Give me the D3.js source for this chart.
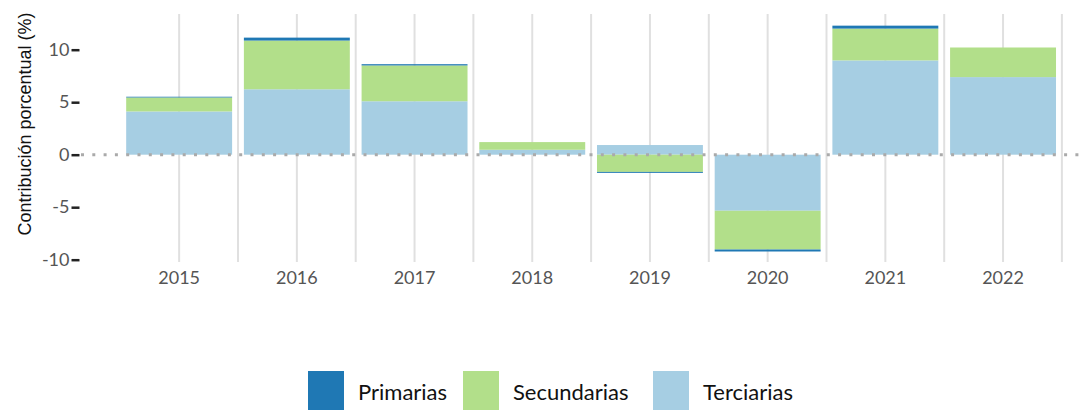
<!DOCTYPE html>
<html>
<head>
<meta charset="utf-8">
<script src="https://cdn.jsdelivr.net/npm/d3@7"></script>
<style>
  body { margin: 0; background: #fff; }
  svg { display: block; }
  .tick-label { font-family: "Century Gothic", Lato, sans-serif; fill: #555; }
</style>
</head>
<body>
<div id="chart"></div>
<script>
// data (percentage points)
var years = ['2015', '2016', '2017', '2018', '2019', '2020', '2021', '2022'];
var terciarias = [4.12, 6.23, 5.09, 0.47, 0.92, -5.34, 8.98, 7.39];
var secundarias = [1.33, 4.64, 3.41, 0.73, -1.64, -3.69, 3.03, 2.82];
var primarias = [0.07, 0.28, 0.12, 0.0, -0.09, -0.19, 0.28, 0.0];
var yTicks = [-10, -5, 0, 5, 10];
var seriesNames = ['Primarias', 'Secundarias', 'Terciarias'];
var seriesColors = ['#1f78b4', '#b2df8a', '#a6cee3'];

var width = 1084;
var height = 410;

var svg = d3.select('#chart')
  .append('svg')
  .attr('width', width)
  .attr('height', height);

var rows = years.map(function (yr, i) {
  return { year: yr, Terciarias: terciarias[i], Secundarias: secundarias[i], Primarias: primarias[i] };
});

// terciarias sits next to zero, primarias on the outside
var stacked = d3.stack()
  .keys(['Terciarias', 'Secundarias', 'Primarias'])
  .offset(d3.stackOffsetDiverging)(rows);

var x = d3.scaleBand()
  .domain(years)
  .range([120.3, 1061.9])
  .paddingInner(0.1)
  .paddingOuter(0.05);

var y = d3.scaleLinear()
  .domain([-10.22, 13.4])
  .range([262, 14]);

var color = d3.scaleOrdinal().domain(seriesNames).range(seriesColors);

// vertical grid: category centres and the borders after each one
var grid = svg.append('g');
years.forEach(function (yr) {
  var centre = x(yr) + x.bandwidth() / 2;
  [centre, centre + x.step() / 2].forEach(function (gx) {
    grid.append('line')
      .attr('x1', gx).attr('x2', gx)
      .attr('y1', 14).attr('y2', 262)
      .attr('stroke', '#e0e0e0')
      .attr('stroke-width', 2);
  });
});

// bars
svg.append('g')
  .selectAll('g')
  .data(stacked)
  .enter()
  .append('g')
  .attr('fill', function (s) { return color(s.key); })
  .selectAll('rect')
  .data(function (s) { return s; })
  .enter()
  .append('rect')
  .attr('x', function (d) { return x(d.data.year); })
  .attr('width', x.bandwidth())
  .attr('y', function (d) { return y(Math.max(d[0], d[1])); })
  .attr('height', function (d) { return Math.abs(y(d[0]) - y(d[1])); });

// dotted zero line
svg.append('line')
  .attr('x1', 81).attr('x2', width)
  .attr('y1', y(0)).attr('y2', y(0))
  .attr('stroke', '#aaa')
  .attr('stroke-width', 3)
  .attr('stroke-dasharray', '3,8.3');

// y axis: ticks and labels only (plain hyphen for negatives)
var yAxis = svg.append('g').attr('transform', 'translate(79.5,0)')
  .call(d3.axisLeft(y).tickValues(yTicks).tickSize(8).tickPadding(2)
    .tickFormat(function (d) { return String(d); }));
yAxis.select('.domain').remove();
yAxis.selectAll('.tick line').attr('stroke', '#222').attr('stroke-width', 2.5);
yAxis.selectAll('.tick text')
  .attr('class', 'tick-label')
  .attr('font-size', 18)
  .style('font-family', '"Century Gothic", Lato, sans-serif')
  .attr('fill', '#555');

// x labels
svg.append('g')
  .selectAll('text')
  .data(years)
  .enter()
  .append('text')
  .attr('class', 'tick-label')
  .attr('x', function (d) { return x(d) + x.bandwidth() / 2; })
  .attr('y', 284)
  .attr('text-anchor', 'middle')
  .attr('font-size', 18)
  .text(function (d) { return d; });

// y title
svg.append('text')
  .attr('transform', 'translate(31,124) rotate(-90)')
  .attr('text-anchor', 'middle')
  .attr('font-family', '"Liberation Sans", Arial, sans-serif')
  .attr('font-size', 18)
  .attr('fill', '#111')
  .text('Contribución porcentual (%)');

// legend
var legendX = [308, 463, 653];
var legend = svg.append('g')
  .selectAll('g')
  .data(seriesNames)
  .enter()
  .append('g')
  .attr('transform', function (d, i) { return 'translate(' + legendX[i] + ',371)'; });

legend.append('rect')
  .attr('width', 36)
  .attr('height', 39)
  .attr('fill', function (d) { return color(d); });

legend.append('text')
  .attr('x', 50)
  .attr('y', 29)
  .attr('font-family', '"Century Gothic", Lato, sans-serif')
  .attr('font-size', 22)
  .attr('fill', '#111')
  .text(function (d) { return d; });
</script>
</body>
</html>
